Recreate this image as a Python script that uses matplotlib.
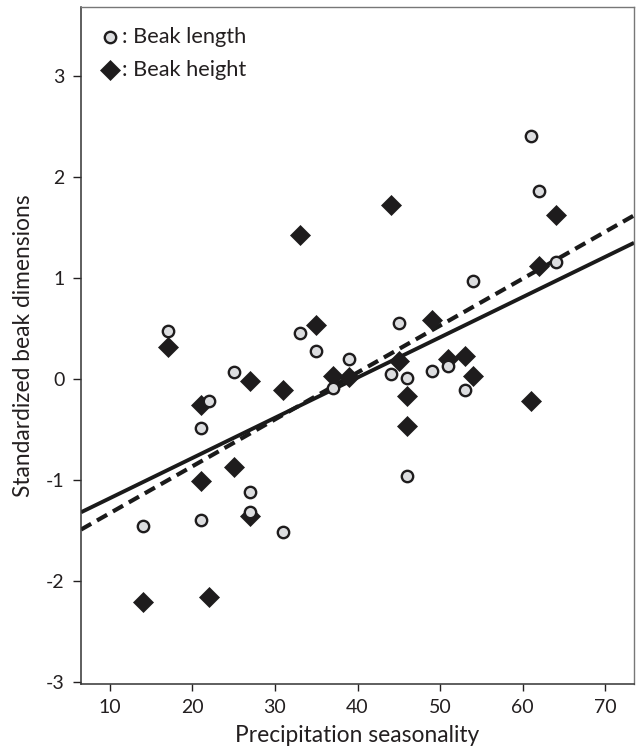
import matplotlib
matplotlib.use("Agg")
import matplotlib.pyplot as plt

plt.rcParams['font.family'] = ['Lato', 'DejaVu Sans']
plt.rcParams['axes.unicode_minus'] = False

# 喙长 (圆点)
length_x = [14, 17, 25, 22, 21, 21, 27, 27, 31, 33, 35, 39, 37, 44, 46, 45,
            46, 49, 51, 53, 54, 61, 62, 64]
length_y = [-1.46, 0.47, 0.07, -0.22, -0.49, -1.40, -1.12, -1.32, -1.52, 0.45,
            0.28, 0.20, -0.09, 0.05, 0.01, 0.55, -0.96, 0.08, 0.13, -0.11,
            0.97, 2.40, 1.86, 1.16]

# 喙高 (菱形)
height_x = [14, 17, 21, 21, 22, 25, 27, 27, 31, 33, 35, 37, 39, 44, 45, 46,
            46, 49, 51, 53, 54, 61, 62, 64]
height_y = [-2.21, 0.32, -0.26, -1.01, -2.16, -0.87, -0.02, -1.36, -0.11, 1.42,
            0.53, 0.03, 0.02, 1.72, 0.18, -0.17, -0.47, 0.58, 0.20, 0.23,
            0.03, -0.22, 1.12, 1.62]

# 回归线 (斜率, 截距)
length_fit = (0.0398, -1.579)
height_fit = (0.0464, -1.793)

x_ticks = [10, 20, 30, 40, 50, 60, 70]
y_ticks = [-3, -2, -1, 0, 1, 2, 3]
x_range = (6.5, 73.5)
y_range = (-3.02, 3.68)

ink = "#231f20"
circle_style = dict(ls="none", marker="o", ms=8.2, mfc="#dcdddf", mec="#1e1c1d", mew=1.7)
diamond_style = dict(ls="none", marker="D", ms=10.5, mfc="#1e1c1d", mec="#1e1c1d", mew=0.5)


def main():
    fig = plt.figure(figsize=(6.36, 7.53), dpi=100)
    ax = fig.add_axes([0.1274, 0.0916, 0.8695, 0.8991])

    xs = list(x_range)
    ax.plot(xs, [length_fit[0] * v + length_fit[1] for v in xs],
            color="#1a1a1a", lw=2.8, solid_capstyle="butt", zorder=1)
    ax.plot(xs, [height_fit[0] * v + height_fit[1] for v in xs],
            color="#1a1a1a", lw=3.0, dashes=(2.8, 1.6), dash_capstyle="butt", zorder=1)

    ax.plot(height_x, height_y, zorder=2, **diamond_style)
    ax.plot(length_x, length_y, zorder=3, **circle_style)

    ax.set_xlim(*x_range)
    ax.set_ylim(*y_range)
    ax.set_xticks(x_ticks)
    ax.set_yticks(y_ticks)
    ax.tick_params(axis="both", direction="out", labelsize=14, colors=ink, width=1.0)
    ax.tick_params(axis="y", length=6, pad=6)
    ax.tick_params(axis="x", length=5, pad=6)

    for side in ["left", "bottom"]:
        ax.spines[side].set_color("#333333")
        ax.spines[side].set_linewidth(1.1)
    for side in ["top", "right"]:
        ax.spines[side].set_color("#777777")
        ax.spines[side].set_linewidth(1.0)

    ax.set_xlabel("Precipitation seasonality", fontsize=16.4, color=ink, labelpad=6)
    ax.set_ylabel("Standardized beak dimensions", fontsize=16.4, color=ink, labelpad=8)

    # 图例 (手动放置)
    ax.plot([0.0524], [0.9557], transform=ax.transAxes, clip_on=False, **circle_style)
    ax.plot([0.0524], [0.907], transform=ax.transAxes, clip_on=False, **diamond_style)
    ax.text(0.074, 0.9557, ": Beak length", transform=ax.transAxes, fontsize=15.7,
            color=ink, va="center", ha="left")
    ax.text(0.074, 0.907, ": Beak height", transform=ax.transAxes, fontsize=15.7,
            color=ink, va="center", ha="left")

    plt.savefig("out.png", dpi=100)


if __name__ == "__main__":
    main()
